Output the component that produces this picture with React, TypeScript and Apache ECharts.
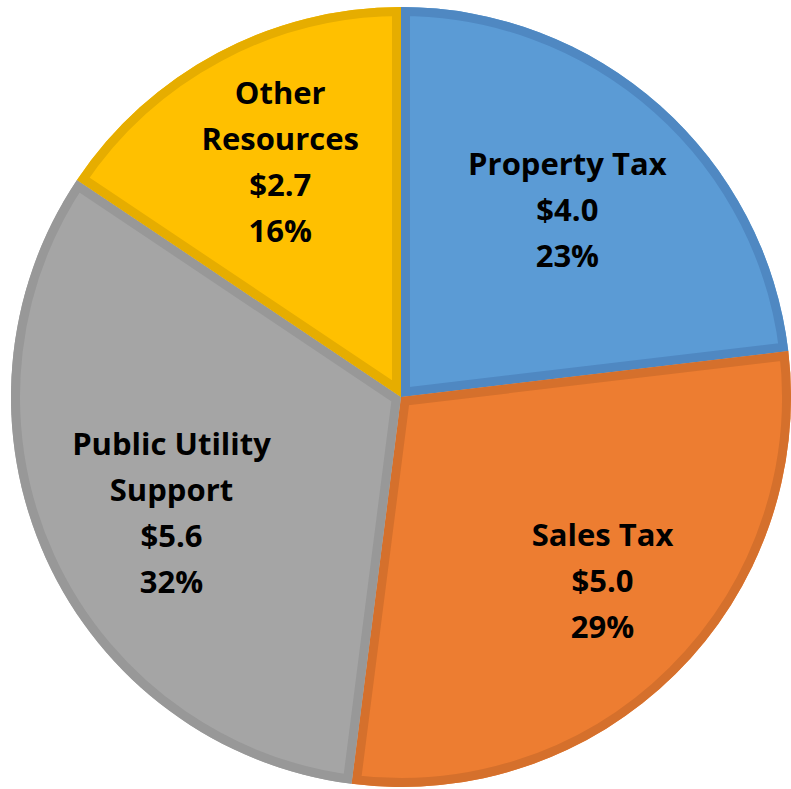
import React, { useEffect, useRef } from "react";
import * as echarts from "echarts";

const categories = ["Property Tax", "Sales Tax", "Public Utility\nSupport", "Other\nResources"];
const values = [4.0, 5.0, 5.6, 2.7];
const fillColors = ["#5B9BD5", "#ED7D31", "#A5A5A5", "#FFC000"];
const borderColors = ["#4F88C2", "#D5702C", "#989898", "#E6AD00"];

export default function App() {
  const ref = useRef<HTMLDivElement>(null);
  useEffect(() => {
    document.body.style.margin = "0";
    if (!ref.current) return;
    const chart = echarts.init(ref.current, undefined, { renderer: "svg" });
    const CX = 401;
    const CY = 397;
    const R = 390;
    const total = values.reduce((a, b) => a + b, 0);
    const cum: number[] = [];
    let acc = 0;
    values.forEach((v) => {
      cum.push(acc);
      acc += v;
    });
    const labelOffsets = [
      [-4, 4],
      [21, 1],
      [4, 9],
      [0, -10],
    ];
    chart.setOption({
      animation: false,
      series: [
        {
          type: "pie",
          center: [CX, CY],
          radius: R,
          startAngle: 90,
          clockwise: true,
          silent: true,
          label: { show: false },
          labelLine: { show: false },
          data: categories.map((n, i) => ({
            name: n,
            value: values[i],
            itemStyle: { color: fillColors[i] },
          })),
          z: 1,
        },
        {
          type: "custom",
          coordinateSystem: "none",
          silent: true,
          z: 2,
          data: values.map((v, i) => [i, v]),
          renderItem: (params: any, api: any) => {
            const i = params.dataIndex;
            const start = -Math.PI / 2 + (cum[i] / total) * Math.PI * 2;
            const end = start + (values[i] / total) * Math.PI * 2;
            const shape = { cx: CX, cy: CY, r0: 0, r: R, startAngle: start, endAngle: end, clockwise: true };
            return {
              type: "sector",
              shape,
              clipPath: { type: "sector", shape },
              style: {
                fill: "none",
                stroke: borderColors[i],
                lineWidth: 18,
                lineJoin: "miter",
              },
            };
          },
        },
        {
          type: "pie",
          center: [CX, CY],
          radius: [117, R],
          startAngle: 90,
          clockwise: true,
          silent: true,
          z: 3,
          itemStyle: { color: "transparent" },
          labelLine: { show: false },
          label: {
            show: true,
            position: "inside",
            color: "#000",
            fontFamily: "Open Sans",
            fontWeight: "bold",
            fontSize: 31,
            lineHeight: 46,
            align: "center",
            formatter: (p: any) => `${p.name}\n$${p.value.toFixed(1)}\n${Math.round(p.percent)}%`,
          },
          data: categories.map((n, i) => ({
            name: n,
            value: values[i],
            label: { offset: labelOffsets[i] },
          })),
        },
      ],
    });
    return () => chart.dispose();
  }, []);
  return <div ref={ref} style={{ width: 791, height: 789 }} />;
}
